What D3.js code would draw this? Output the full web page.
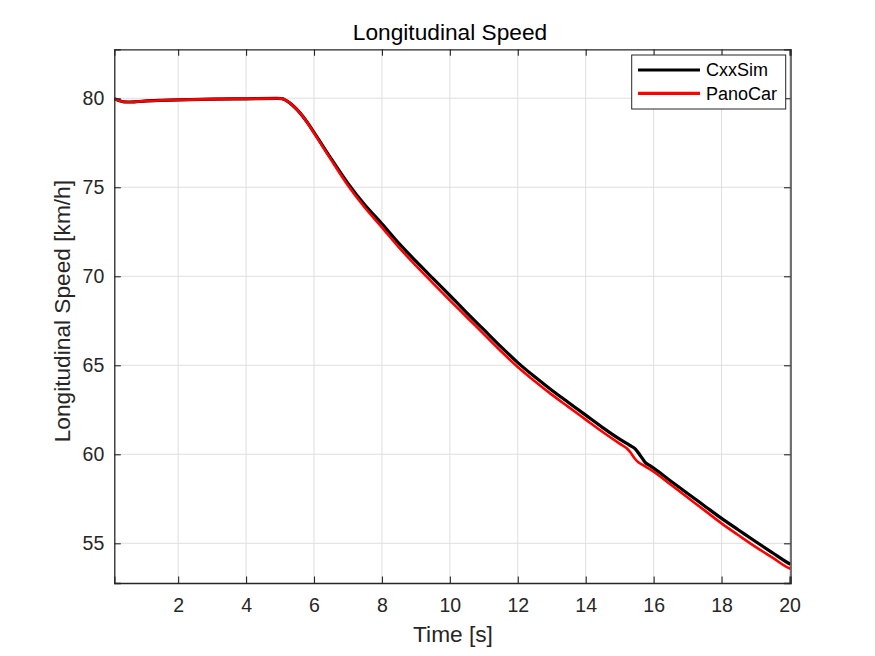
<!DOCTYPE html>
<html>
<head>
<meta charset="utf-8">
<script src="https://cdn.jsdelivr.net/npm/d3@7"></script>
<style>
  html, body { margin: 0; padding: 0; background: #fff; }
  svg text { font-family: "Liberation Sans", Arial, Helvetica, sans-serif; }
</style>
</head>
<body>
<svg id="chart" width="875" height="656"></svg>
<script>
// ---- data ----
const timeCxx = [0.12, 0.25, 0.4, 0.6, 1.0, 1.5, 2.0, 3.0, 4.0, 4.9, 5.05, 5.2, 5.4, 5.6, 5.8, 6.0, 6.5, 7.0, 7.5, 8.0, 8.5, 9.0, 9.5, 10.0, 10.5, 11.0, 11.5, 12.0, 12.5, 13.0, 13.5, 14.0, 14.5, 15.0, 15.3, 15.45, 15.6, 15.75, 15.9, 16.0, 16.5, 17.0, 17.5, 18.0, 18.5, 19.0, 19.5, 20.0, 20.03];
const speedCxx = [79.98, 79.88, 79.80, 79.79, 79.84, 79.88, 79.91, 79.95, 79.97, 79.99, 79.98, 79.85, 79.55, 79.15, 78.65, 78.08, 76.62, 75.22, 74.0, 72.95, 71.85, 70.85, 69.88, 68.92, 67.95, 67.0, 66.05, 65.15, 64.35, 63.6, 62.9, 62.2, 61.5, 60.85, 60.5, 60.32, 59.95, 59.55, 59.35, 59.22, 58.5, 57.8, 57.1, 56.4, 55.75, 55.1, 54.47, 53.85, 53.82];

const timePano = [0.12, 0.25, 0.4, 0.6, 1.0, 1.5, 2.0, 3.0, 4.0, 4.9, 5.05, 5.2, 5.4, 5.6, 5.8, 6.0, 6.5, 7.0, 7.5, 8.0, 8.5, 9.0, 9.5, 10.0, 10.5, 11.0, 11.5, 12.0, 12.5, 13.0, 13.5, 14.0, 14.5, 15.0, 15.2, 15.3, 15.45, 15.55, 15.7, 16.0, 16.5, 17.0, 17.5, 18.0, 18.5, 19.0, 19.5, 20.0, 20.03];
const speedPano = [79.98, 79.88, 79.80, 79.79, 79.84, 79.88, 79.91, 79.95, 79.97, 79.99, 79.98, 79.85, 79.55, 79.15, 78.64, 78.05, 76.55, 75.1, 73.85, 72.75, 71.62, 70.6, 69.62, 68.65, 67.7, 66.75, 65.8, 64.9, 64.1, 63.35, 62.65, 61.95, 61.25, 60.6, 60.35, 60.15, 59.75, 59.55, 59.38, 59.02, 58.3, 57.57, 56.85, 56.12, 55.45, 54.8, 54.2, 53.6, 53.58];

const xTicks = [2, 4, 6, 8, 10, 12, 14, 16, 18, 20];
const yTicks = [55, 60, 65, 70, 75, 80];
const seriesNames = ["CxxSim", "PanoCar"];
const seriesColors = ["#000000", "#ff0000"];

// ---- layout ----
const svg = d3.select("#chart");
const L = 114.3, R = 790.5, T = 49.3, B = 583;
const x = d3.scaleLinear().domain([0.12, 20.03]).range([L, R]);
const y = d3.scaleLinear().domain([52.77, 82.75]).range([B, T]);
const axColor = "#262626";
const gridColor = "#dfdfdf";
const tickLen = 6.5;

// grid
const g = svg.append("g");
g.selectAll("line.gx").data(xTicks).enter().append("line")
  .attr("x1", d => x(d)).attr("x2", d => x(d)).attr("y1", T).attr("y2", B)
  .attr("stroke", gridColor).attr("stroke-width", 1);
g.selectAll("line.gy").data(yTicks).enter().append("line")
  .attr("x1", L).attr("x2", R).attr("y1", d => y(d)).attr("y2", d => y(d))
  .attr("stroke", gridColor).attr("stroke-width", 1);

// clip
svg.append("clipPath").attr("id", "clip").append("rect")
  .attr("x", L).attr("y", T).attr("width", R - L).attr("height", B - T);

const line = d3.line().x(d => x(d[0])).y(d => y(d[1])).curve(d3.curveMonotoneX);
const cxx = timeCxx.map((t, i) => [t, speedCxx[i]]);
const pano = timePano.map((t, i) => [t, speedPano[i]]);

const plot = svg.append("g").attr("clip-path", "url(#clip)");
plot.append("path").datum(cxx).attr("d", line)
  .attr("fill", "none").attr("stroke", seriesColors[0]).attr("stroke-width", 3.2)
  .attr("stroke-linejoin", "round");
plot.append("path").datum(pano).attr("d", line)
  .attr("fill", "none").attr("stroke", seriesColors[1]).attr("stroke-width", 2.6)
  .attr("stroke-linejoin", "round");

// axes (box)
const axB = svg.append("g").attr("transform", `translate(0,${B})`)
  .call(d3.axisBottom(x).tickValues(xTicks).tickSize(-tickLen).tickPadding(15).tickFormat(d3.format("d")));
const axT = svg.append("g").attr("transform", `translate(0,${T})`)
  .call(d3.axisTop(x).tickValues(xTicks).tickSize(-tickLen).tickFormat(""));
const axL = svg.append("g").attr("transform", `translate(${L},0)`)
  .call(d3.axisLeft(y).tickValues(yTicks).tickSize(-tickLen).tickPadding(10).tickFormat(d3.format("d")));
const axR = svg.append("g").attr("transform", `translate(${R},0)`)
  .call(d3.axisRight(y).tickValues(yTicks).tickSize(-tickLen).tickFormat(""));
[axB, axT, axL, axR].forEach(a => {
  a.select(".domain").attr("stroke", axColor).attr("stroke-width", 1.3);
  a.selectAll(".tick line").attr("stroke", axColor).attr("stroke-width", 1.1);
  a.selectAll(".tick text").attr("fill", axColor).style("font-size", "19.5px");
});
axB.selectAll(".tick text").attr("dy", "0.71em");

// title & labels
svg.append("text").attr("x", 450).attr("y", 40).attr("text-anchor", "middle")
  .style("font-size", "22.7px").attr("fill", "#000").text("Longitudinal Speed");
svg.append("text").attr("x", 453).attr("y", 642).attr("text-anchor", "middle")
  .style("font-size", "22.7px").attr("fill", axColor).text("Time [s]");
svg.append("text").attr("transform", `translate(70,${(T + B) / 2 - 5}) rotate(-90)`)
  .attr("text-anchor", "middle").style("font-size", "22.7px").attr("fill", axColor)
  .text("Longitudinal Speed [km/h]");

// legend
const lg = svg.append("g");
lg.append("rect").attr("x", 631.7).attr("y", 55).attr("width", 154).attr("height", 54)
  .attr("fill", "#fff").attr("stroke", axColor).attr("stroke-width", 1);
seriesNames.forEach((name, i) => {
  const yy = 70 + i * 23.3;
  lg.append("line").attr("x1", 638).attr("x2", 700).attr("y1", yy).attr("y2", yy)
    .attr("stroke", seriesColors[i]).attr("stroke-width", 3.2);
  lg.append("text").attr("x", 706).attr("y", yy).attr("dy", "0.35em")
    .style("font-size", "18px").attr("fill", "#000").text(name);
});
</script>
</body>
</html>
